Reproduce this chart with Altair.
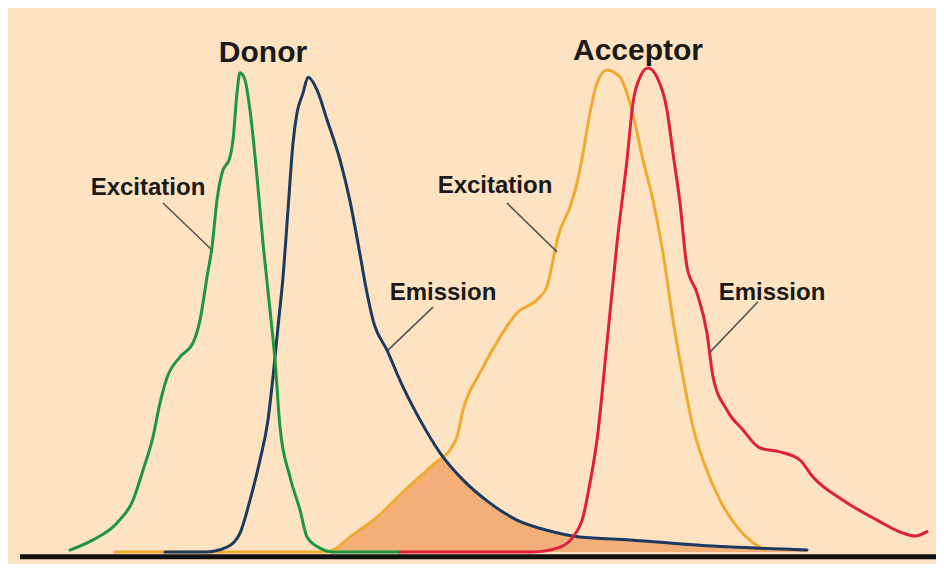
import altair as alt
import pandas as pd

# Donor excitation (green)
don_exc_nm = [331, 342.5, 354.5, 362.5, 367.5, 372.5, 376, 379.5, 386, 392.5, 396, 399.5, 402, 404.5,
              407, 411, 412.5, 414.5, 416, 418.5, 421, 424.5, 427.5, 431, 433.5, 436, 441, 446, 449.5,
              456, 462.5, 496]
don_exc_i = [0.4, 2.5, 6.0, 10.7, 16.9, 23.8, 30.8, 36.0, 40.3, 43.2, 47.9, 56.8, 63.0, 72.7,
             78.3, 81.6, 85.1, 94.8, 99.0, 97.5, 91.3, 77.5, 63.8, 50.0, 39.7, 25.8, 15.5, 8.7, 3.1,
             0.8, 0, 0]

# Donor emission (dark blue)
don_em_nm = [378.5, 398.5, 409.5, 416, 421, 426, 430, 432.5, 435, 437.5, 440, 442.5, 444.5, 447.5,
             450, 454.5, 459.5, 466, 471, 475, 479.5, 482.5, 489.5, 497.5, 506, 516, 527.5, 541,
             554.5, 569.5, 586, 611, 646, 699.5]
don_em_i = [0, 0, 1.0, 3.9, 10.7, 19.0, 27.3, 36.2, 46.5, 56.8, 70.7, 84.5, 90.7, 94.8,
            98.1, 95.5, 89.3, 81.0, 72.5, 63.8, 53.5, 47.9, 41.7, 34.1, 27.3, 20.5, 14.9, 10.1,
            6.6, 4.5, 3.1, 2.5, 1.4, 0.4]

# Acceptor excitation (orange)
acc_exc_nm = [353.5, 458.5, 463.5, 471, 484.5, 497.5, 512.5, 522, 524.5, 527.5, 536, 546, 554.5,
              564.5, 569.5, 572.5, 575, 581, 584.5, 587.5, 591, 594.5, 599.5, 606, 611, 617.5,
              622.5, 627.5, 632.5, 637.5, 642.5, 647.5, 656, 664.5, 672.5, 678.5]
acc_exc_i = [0, 0, 0.6, 3.1, 7.2, 12.4, 18.0, 21.7, 23.8, 29.3, 37.0, 44.4, 49.4,
             52.1, 54.8, 60.3, 65.1, 71.3, 76.2, 82.4, 90.7, 96.9, 99.6, 98.1, 92.8, 81.0,
             72.7, 61.8, 47.9, 36.2, 25.8, 19.0, 10.7, 5.2, 1.9, 0.4]

# Acceptor emission (red)
acc_em_nm = [496, 562.5, 576, 582.5, 587.5, 591, 594.5, 599.5, 604.5, 609.5, 612.5, 616, 620,
             624.5, 629.5, 632.5, 636, 639.5, 644.5, 649.5, 652.5, 659.5, 667.5, 676, 686, 696,
             702.5, 717.5, 734.5, 747.5, 753.5, 759.5]
acc_em_i = [0, 0, 1.0, 3.1, 7.2, 14.3, 23.1, 43.2, 63.8, 81.0, 92.8, 98.1, 100,
            98.1, 91.3, 82.4, 72.1, 58.9, 53.5, 45.2, 36.2, 29.3, 25.2, 21.5, 20.7, 19.0,
            15.5, 10.7, 6.6, 3.9, 3.3, 4.2]

# Spectral overlap region (upper edge)
overlap_nm = [458.5, 463.5, 471, 484.5, 497.5, 512.5, 515.5, 527.5, 541, 554.5, 569.5, 586, 611, 646, 699.5]
overlap_i = [0, 0.6, 3.1, 7.2, 12.4, 18.0, 19.3, 14.9, 10.1, 6.6, 4.5, 3.1, 2.5, 1.4, 0.4]

# Labels
label_text = ["Donor", "Acceptor", "Excitation", "Excitation", "Emission", "Emission"]
label_nm = [427.5, 615, 370, 543.5, 517.5, 682]
label_i = [101.2, 101.7, 73.8, 74.2, 52.1, 52.1]
label_size = [30, 30, 24, 24, 24, 24]

# Leader lines
lead_nm1 = [377.5, 549.5, 512.5, 675]
lead_i1 = [72.1, 72.1, 50.6, 51.7]
lead_nm2 = [402, 574.5, 490, 651]
lead_i2 = [62.4, 62.0, 41.7, 41.3]

X_DOMAIN = [300, 764]
Y_DOMAIN = [-2.48, 112.4]

xs = alt.Scale(domain=X_DOMAIN, nice=False, zero=False)
ys = alt.Scale(domain=Y_DOMAIN, nice=False, zero=False)
X = lambda f: alt.X(f, type="quantitative", scale=xs, axis=None)
Y = lambda f: alt.Y(f, type="quantitative", scale=ys, axis=None)

layers = []

ov = pd.DataFrame({"nm": overlap_nm, "i": overlap_i, "z": 0})
layers.append(alt.Chart(ov).mark_area(color="#F4AF78", opacity=1, interpolate="monotone").encode(
    x=X("nm"), y=Y("i"), y2="z"))

base = pd.DataFrame({"nm": [306, 764], "i": [-1.0, -1.0]})
layers.append(alt.Chart(base).mark_line(color="#111111", strokeWidth=5, clip=True).encode(
    x=X("nm"), y=Y("i")))

series = [
    (acc_exc_nm, acc_exc_i, "#F0AA32"),
    (don_em_nm, don_em_i, "#1B3A60"),
    (don_exc_nm, don_exc_i, "#1E963C"),
    (acc_em_nm, acc_em_i, "#DF1F3E"),
]
for nm, iv, col in series:
    df = pd.DataFrame({"nm": nm, "i": iv, "o": list(range(len(nm)))})
    layers.append(alt.Chart(df).mark_line(color=col, strokeWidth=3, interpolate="monotone",
                                           strokeCap="round", clip=True).encode(
        x=X("nm"), y=Y("i"), order="o:Q"))

lead = pd.DataFrame({"nm": lead_nm1, "i": lead_i1, "nm2": lead_nm2, "i2": lead_i2})
layers.append(alt.Chart(lead).mark_rule(color="#555555", strokeWidth=1.6).encode(
    x=X("nm"), y=Y("i"), x2="nm2", y2="i2"))

lab = pd.DataFrame({"t": label_text, "nm": label_nm, "i": label_i, "s": label_size})
layers.append(alt.Chart(lab).mark_text(font="Liberation Sans", fontWeight="bold", color="#1a1a1a",
                                       align="center", baseline="alphabetic").encode(
    x=X("nm"), y=Y("i"), text="t:N",
    size=alt.Size("s:Q", scale=None, legend=None)))

chart = alt.layer(*layers).properties(
    width=928, height=556, autosize=alt.AutoSizeParams(type="none"), padding=0,
    background="#FDE3C1",
).configure_view(stroke=None)

chart.save("out.html", embed_options={"renderer": "svg", "actions": False})
